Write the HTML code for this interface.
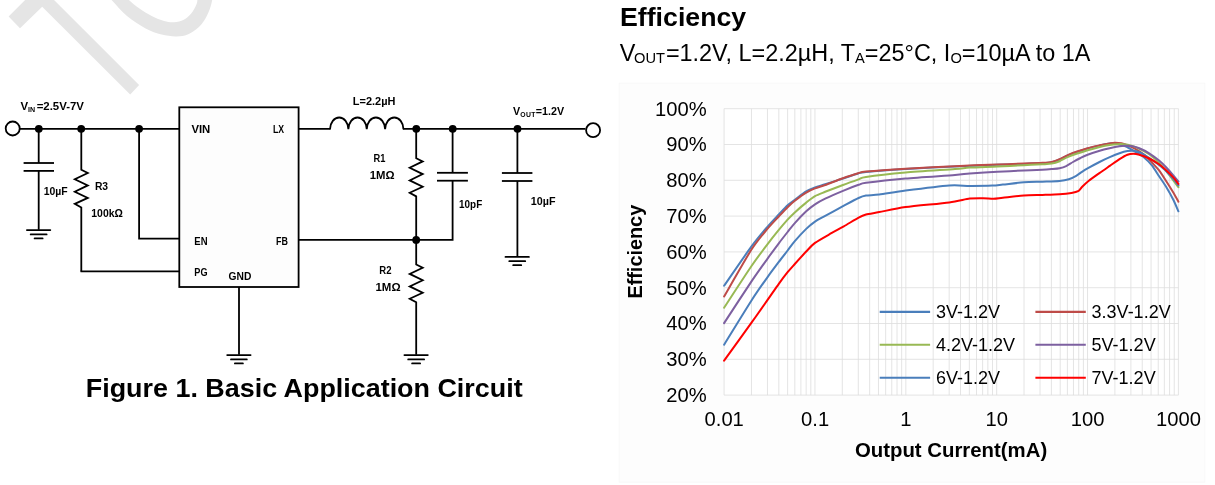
<!DOCTYPE html>
<html><head><meta charset="utf-8"><title>Efficiency</title>
<style>html,body{margin:0;padding:0;background:#fff;}body{width:1215px;height:485px;overflow:hidden;font-family:"Liberation Sans",sans-serif;}svg{display:block;will-change:transform;}</style></head>
<body>
<svg width="1215" height="485" viewBox="0 0 1215 485" font-family="Liberation Sans, sans-serif" fill="#000">
<rect width="1215" height="485" fill="#fff"/>
<polygon points="25.1,0 8.65,16.5 20,28.2 42.2,6.8 130.2,94.4 139.1,85.1 54,0" fill="#e5e5e5"/>
<path d="M97.00,-16.00 C99.43,-13.33 106.60,-5.33 111.60,0.00 C116.60,5.33 121.33,11.27 127.00,16.00 C132.67,20.73 139.83,25.30 145.60,28.40 C151.37,31.50 156.47,33.27 161.60,34.60 C166.73,35.93 171.87,36.50 176.40,36.40 C180.93,36.30 184.68,35.95 188.80,34.00 C192.92,32.05 197.82,28.32 201.10,24.70 C204.38,21.08 206.65,16.42 208.50,12.30 C210.35,8.18 211.28,4.38 212.20,0.00 C213.12,-4.38 213.70,-11.67 214.00,-14.00 L197.60,-10.00 C197.57,-8.33 197.63,-2.48 197.40,0.00 C197.17,2.48 197.23,2.63 196.20,4.90 C195.17,7.17 193.27,11.12 191.20,13.60 C189.13,16.08 186.67,18.37 183.80,19.80 C180.93,21.23 177.28,22.00 174.00,22.20 C170.72,22.40 167.82,22.03 164.10,21.00 C160.38,19.97 155.82,18.07 151.70,16.00 C147.58,13.93 143.20,11.27 139.40,8.60 C135.60,5.93 132.30,2.93 128.90,0.00 C125.50,-2.93 120.65,-7.50 119.00,-9.00 Z" fill="#e5e5e5"/>
<g stroke="#000" stroke-width="1.80" fill="none" stroke-linecap="butt" stroke-linejoin="miter">
<line x1="19.9" y1="128.8" x2="179.3" y2="128.8"/>
<rect x="179.3" y="107.3" width="119.3" height="179.7" fill="#fdfdfd"/>
<line x1="38.7" y1="128.8" x2="38.7" y2="163.0"/>
<line x1="23.6" y1="163.0" x2="54.0" y2="163.0"/>
<line x1="23.6" y1="170.9" x2="54.0" y2="170.9"/>
<line x1="38.7" y1="170.8" x2="38.7" y2="229.8"/>
<g stroke-linecap="round">
<line x1="26.9" y1="230.1" x2="50.3" y2="230.1"/>
<line x1="30.7" y1="234.4" x2="46.6" y2="234.4"/>
<line x1="34.6" y1="238.4" x2="42.6" y2="238.4"/>
</g>
<polyline points="81.3,128.8 81.3,169.8 87.8,173.0 74.8,179.2 87.8,185.4 74.8,191.7 87.8,197.9 74.8,203.9 81.3,207.5 81.3,271.4"/>
<line x1="80.5" y1="271.4" x2="179.3" y2="271.4"/>
<polyline points="139.1,128.8 139.1,238.7 179.3,238.7"/>
<line x1="239" y1="287" x2="239" y2="354.8"/>
<g stroke-linecap="round">
<line x1="227.2" y1="355.1" x2="250.6" y2="355.1"/>
<line x1="231.0" y1="359.4" x2="246.8" y2="359.4"/>
<line x1="234.9" y1="363.4" x2="242.9" y2="363.4"/>
</g>
<line x1="298.6" y1="128.8" x2="330.6" y2="128.8"/>
<path d="M330.00,129.20 A9.19,12.10 0 0 1 348.37,129.20 A9.19,12.10 0 0 1 366.74,129.20 A9.19,12.10 0 0 1 385.11,129.20 A9.19,12.10 0 0 1 403.48,129.20"/>
<line x1="402.9" y1="128.8" x2="585.5" y2="128.8"/>
<polyline points="416.2,128.8 416.2,158.2 422.7,161.4 409.7,167.8 422.7,174.1 409.7,180.4 422.7,186.7 409.7,192.8 416.2,196.4 416.2,239.9"/>
<polyline points="416.2,239.9 416.2,264.5 422.7,267.7 409.7,273.9 422.7,280.2 409.7,286.4 422.7,292.7 409.7,298.7 416.2,302.3 416.2,354.8"/>
<g stroke-linecap="round">
<line x1="404.4" y1="355.1" x2="427.8" y2="355.1"/>
<line x1="408.2" y1="359.4" x2="424.1" y2="359.4"/>
<line x1="412.1" y1="363.4" x2="420.1" y2="363.4"/>
</g>
<polyline points="298.6,239.9 452.6,239.9 452.6,180.7"/>
<line x1="452.6" y1="128.8" x2="452.6" y2="172.8"/>
<line x1="437" y1="172.8" x2="467.9" y2="172.8"/>
<line x1="437" y1="180.7" x2="467.9" y2="180.7"/>
<line x1="517.4" y1="128.8" x2="517.4" y2="173.0"/>
<line x1="501.9" y1="173.0" x2="532.4" y2="173.0"/>
<line x1="501.9" y1="181.0" x2="532.4" y2="181.0"/>
<line x1="517.4" y1="181.0" x2="517.4" y2="256.6"/>
<g stroke-linecap="round">
<line x1="505.5" y1="256.9" x2="528.9" y2="256.9"/>
<line x1="509.3" y1="261.2" x2="525.2" y2="261.2"/>
<line x1="513.2" y1="265.2" x2="521.2" y2="265.2"/>
</g>
<circle cx="12.7" cy="128.5" r="7.0" fill="#fff"/>
<circle cx="593.1" cy="130.2" r="7.0" fill="#fff"/>
</g>
<circle cx="38.8" cy="128.8" r="3.9"/>
<circle cx="81.2" cy="128.8" r="3.9"/>
<circle cx="139.1" cy="128.8" r="3.9"/>
<circle cx="416.3" cy="128.8" r="3.9"/>
<circle cx="452.7" cy="128.8" r="3.9"/>
<circle cx="517.5" cy="128.8" r="3.9"/>
<circle cx="416.2" cy="239.9" r="3.9"/>
<text x="20.4" y="110" font-size="11.60" font-weight="bold" textLength="63.6" lengthAdjust="spacingAndGlyphs">V<tspan font-size="7.2" dy="1.9">IN</tspan><tspan dy="-1.9" dx="1.6">=2.5V-7V</tspan></text>
<text x="43.7" y="194.9" font-size="11.60" font-weight="bold" textLength="24.0" lengthAdjust="spacingAndGlyphs" >10µF</text>
<text x="94.9" y="189.6" font-size="11.60" font-weight="bold" textLength="13.2" lengthAdjust="spacingAndGlyphs" >R3</text>
<text x="91.3" y="217.3" font-size="11.60" font-weight="bold" textLength="31.6" lengthAdjust="spacingAndGlyphs" >100kΩ</text>
<text x="191.4" y="132.6" font-size="11.60" font-weight="bold" textLength="18.9" lengthAdjust="spacingAndGlyphs" >VIN</text>
<text x="273.0" y="132.6" font-size="11.60" font-weight="bold" textLength="11.1" lengthAdjust="spacingAndGlyphs" >LX</text>
<text x="194.3" y="244.7" font-size="11.60" font-weight="bold" textLength="13.2" lengthAdjust="spacingAndGlyphs" >EN</text>
<text x="276.0" y="244.7" font-size="11.60" font-weight="bold" textLength="11.9" lengthAdjust="spacingAndGlyphs" >FB</text>
<text x="194.3" y="276.0" font-size="11.60" font-weight="bold" textLength="13.2" lengthAdjust="spacingAndGlyphs" >PG</text>
<text x="228.5" y="279.8" font-size="11.60" font-weight="bold" textLength="22.8" lengthAdjust="spacingAndGlyphs" >GND</text>
<text x="352.8" y="105.2" font-size="11.60" font-weight="bold" textLength="42.6" lengthAdjust="spacingAndGlyphs" >L=2.2µH</text>
<text x="373.5" y="161.9" font-size="11.60" font-weight="bold" textLength="11.9" lengthAdjust="spacingAndGlyphs" >R1</text>
<text x="369.7" y="179.1" font-size="11.60" font-weight="bold" textLength="24.8" lengthAdjust="spacingAndGlyphs" >1MΩ</text>
<text x="459.1" y="208.2" font-size="11.60" font-weight="bold" textLength="23.1" lengthAdjust="spacingAndGlyphs" >10pF</text>
<text x="530.8" y="204.6" font-size="11.60" font-weight="bold" textLength="24.7" lengthAdjust="spacingAndGlyphs" >10µF</text>
<text x="379.3" y="274.3" font-size="11.60" font-weight="bold" textLength="12.2" lengthAdjust="spacingAndGlyphs" >R2</text>
<text x="375.5" y="290.9" font-size="11.60" font-weight="bold" textLength="25.1" lengthAdjust="spacingAndGlyphs" >1MΩ</text>
<text x="513.1" y="115" font-size="11.60" font-weight="bold" textLength="51" lengthAdjust="spacingAndGlyphs">V<tspan font-size="7.4" dy="1.9" letter-spacing="0.4">OUT</tspan><tspan dy="-1.9">=1.2V</tspan></text>
<text x="85.8" y="396.6" font-size="26.70" font-weight="bold" textLength="436.8" lengthAdjust="spacingAndGlyphs" >Figure 1. Basic Application Circuit</text>
<text x="620.0" y="26.4" font-size="26.40" font-weight="bold" textLength="126.2" lengthAdjust="spacingAndGlyphs" >Efficiency</text>
<text x="619.8" y="60.7" font-size="23.30" textLength="470.7" lengthAdjust="spacingAndGlyphs">V<tspan font-size="14.6" dy="2" dx="-1.3">OUT</tspan><tspan dy="-2" dx="0.8">=1.2V, L=2.2µH, T</tspan><tspan font-size="14.6" dy="2">A</tspan><tspan dy="-2">=25°C, I</tspan><tspan font-size="14.6" dy="2">O</tspan><tspan dy="-2">=10µA to 1A</tspan></text>
<rect x="619.2" y="83.2" width="585.6" height="399" fill="#fdfdfd" stroke="#f8f8f8" stroke-width="1"/>
<rect x="724.1" y="108.7" width="454.3" height="286.4" fill="#fff"/>
<g stroke="#dddddd" stroke-width="0.8" fill="none">
<line x1="724.10" y1="108.7" x2="724.10" y2="395.1"/>
<line x1="751.45" y1="108.7" x2="751.45" y2="395.1"/>
<line x1="767.45" y1="108.7" x2="767.45" y2="395.1"/>
<line x1="778.80" y1="108.7" x2="778.80" y2="395.1"/>
<line x1="787.61" y1="108.7" x2="787.61" y2="395.1"/>
<line x1="794.80" y1="108.7" x2="794.80" y2="395.1"/>
<line x1="800.89" y1="108.7" x2="800.89" y2="395.1"/>
<line x1="806.15" y1="108.7" x2="806.15" y2="395.1"/>
<line x1="810.80" y1="108.7" x2="810.80" y2="395.1"/>
<line x1="814.96" y1="108.7" x2="814.96" y2="395.1"/>
<line x1="842.31" y1="108.7" x2="842.31" y2="395.1"/>
<line x1="858.31" y1="108.7" x2="858.31" y2="395.1"/>
<line x1="869.66" y1="108.7" x2="869.66" y2="395.1"/>
<line x1="878.47" y1="108.7" x2="878.47" y2="395.1"/>
<line x1="885.66" y1="108.7" x2="885.66" y2="395.1"/>
<line x1="891.75" y1="108.7" x2="891.75" y2="395.1"/>
<line x1="897.01" y1="108.7" x2="897.01" y2="395.1"/>
<line x1="901.66" y1="108.7" x2="901.66" y2="395.1"/>
<line x1="905.82" y1="108.7" x2="905.82" y2="395.1"/>
<line x1="933.17" y1="108.7" x2="933.17" y2="395.1"/>
<line x1="949.17" y1="108.7" x2="949.17" y2="395.1"/>
<line x1="960.52" y1="108.7" x2="960.52" y2="395.1"/>
<line x1="969.33" y1="108.7" x2="969.33" y2="395.1"/>
<line x1="976.52" y1="108.7" x2="976.52" y2="395.1"/>
<line x1="982.61" y1="108.7" x2="982.61" y2="395.1"/>
<line x1="987.87" y1="108.7" x2="987.87" y2="395.1"/>
<line x1="992.52" y1="108.7" x2="992.52" y2="395.1"/>
<line x1="996.68" y1="108.7" x2="996.68" y2="395.1"/>
<line x1="1024.03" y1="108.7" x2="1024.03" y2="395.1"/>
<line x1="1040.03" y1="108.7" x2="1040.03" y2="395.1"/>
<line x1="1051.38" y1="108.7" x2="1051.38" y2="395.1"/>
<line x1="1060.19" y1="108.7" x2="1060.19" y2="395.1"/>
<line x1="1067.38" y1="108.7" x2="1067.38" y2="395.1"/>
<line x1="1073.47" y1="108.7" x2="1073.47" y2="395.1"/>
<line x1="1078.73" y1="108.7" x2="1078.73" y2="395.1"/>
<line x1="1083.38" y1="108.7" x2="1083.38" y2="395.1"/>
<line x1="1087.54" y1="108.7" x2="1087.54" y2="395.1"/>
<line x1="1114.89" y1="108.7" x2="1114.89" y2="395.1"/>
<line x1="1130.89" y1="108.7" x2="1130.89" y2="395.1"/>
<line x1="1142.24" y1="108.7" x2="1142.24" y2="395.1"/>
<line x1="1151.05" y1="108.7" x2="1151.05" y2="395.1"/>
<line x1="1158.24" y1="108.7" x2="1158.24" y2="395.1"/>
<line x1="1164.33" y1="108.7" x2="1164.33" y2="395.1"/>
<line x1="1169.59" y1="108.7" x2="1169.59" y2="395.1"/>
<line x1="1174.24" y1="108.7" x2="1174.24" y2="395.1"/>
<line x1="1178.40" y1="108.7" x2="1178.40" y2="395.1"/>
<line x1="724.1" y1="108.70" x2="1178.4" y2="108.70"/>
<line x1="724.1" y1="144.50" x2="1178.4" y2="144.50"/>
<line x1="724.1" y1="180.30" x2="1178.4" y2="180.30"/>
<line x1="724.1" y1="216.10" x2="1178.4" y2="216.10"/>
<line x1="724.1" y1="251.90" x2="1178.4" y2="251.90"/>
<line x1="724.1" y1="287.70" x2="1178.4" y2="287.70"/>
<line x1="724.1" y1="323.50" x2="1178.4" y2="323.50"/>
<line x1="724.1" y1="359.30" x2="1178.4" y2="359.30"/>
<line x1="724.1" y1="395.10" x2="1178.4" y2="395.10"/>
</g>
<path d="M724.10,285.80 C727.75,280.55 745.73,254.27 751.50,246.40 C757.27,238.53 763.76,231.07 767.40,226.80 C771.04,222.53 776.11,217.28 778.80,214.40 C781.49,211.52 785.47,207.15 787.60,205.20 C789.73,203.25 792.32,201.64 794.80,199.80 C797.28,197.96 803.51,193.05 806.20,191.40 C808.89,189.75 812.47,188.35 815.00,187.40 C817.53,186.45 821.57,185.45 825.20,184.30 C828.83,183.15 837.81,180.24 842.20,178.80 C846.59,177.36 854.93,174.42 858.10,173.50 C861.27,172.58 859.67,172.50 866.00,171.90 C872.33,171.30 893.07,169.76 905.60,169.00 C918.13,168.24 947.76,166.76 960.00,166.20 C972.24,165.64 988.88,165.11 997.40,164.80 C1005.92,164.49 1017.90,164.13 1023.90,163.90 C1029.90,163.67 1038.69,163.33 1042.40,163.10 C1046.11,162.87 1049.41,162.68 1051.70,162.20 C1053.99,161.72 1057.32,160.47 1059.60,159.50 C1061.88,158.53 1065.07,156.37 1068.80,154.90 C1072.53,153.43 1083.48,149.75 1087.60,148.50 C1091.72,147.25 1096.77,146.15 1099.70,145.50 C1102.63,144.85 1107.61,143.91 1109.60,143.60 C1111.59,143.29 1112.49,142.84 1114.60,143.20 C1116.71,143.56 1122.76,145.22 1125.40,146.30 C1128.04,147.38 1131.95,149.85 1134.40,151.30 C1136.85,152.75 1141.47,155.32 1143.80,157.20 C1146.13,159.08 1149.89,162.89 1151.90,165.40 C1153.91,167.91 1157.01,173.15 1158.90,176.00 C1160.79,178.85 1164.18,183.63 1166.10,186.80 C1168.02,189.97 1171.66,196.53 1173.30,199.80 C1174.94,203.07 1177.72,209.77 1178.40,211.30" fill="none" stroke="#4a7ebb" stroke-width="2.0" stroke-linejoin="round" stroke-linecap="round"/>
<path d="M724.10,296.50 C727.75,290.23 745.73,258.51 751.50,249.50 C757.27,240.49 763.76,233.30 767.40,228.90 C771.04,224.50 776.11,219.39 778.80,216.50 C781.49,213.61 785.47,209.29 787.60,207.20 C789.73,205.11 792.32,202.75 794.80,200.80 C797.28,198.85 803.51,194.25 806.20,192.60 C808.89,190.95 812.47,189.41 815.00,188.40 C817.53,187.39 821.57,186.32 825.20,185.00 C828.83,183.68 837.81,180.07 842.20,178.50 C846.59,176.93 854.93,174.12 858.10,173.20 C861.27,172.28 859.67,172.20 866.00,171.60 C872.33,171.00 893.07,169.46 905.60,168.70 C918.13,167.94 947.76,166.46 960.00,165.90 C972.24,165.34 988.88,164.81 997.40,164.50 C1005.92,164.19 1017.90,163.83 1023.90,163.60 C1029.90,163.37 1038.69,163.03 1042.40,162.80 C1046.11,162.57 1049.41,162.38 1051.70,161.90 C1053.99,161.42 1057.32,160.17 1059.60,159.20 C1061.88,158.23 1065.07,156.05 1068.80,154.60 C1072.53,153.15 1083.48,149.54 1087.60,148.30 C1091.72,147.06 1096.77,145.95 1099.70,145.30 C1102.63,144.65 1107.61,143.75 1109.60,143.40 C1111.59,143.05 1113.01,142.73 1114.60,142.70 C1116.19,142.67 1119.93,142.91 1121.50,143.20 C1123.07,143.49 1124.68,144.22 1126.40,144.90 C1128.12,145.58 1132.01,146.98 1134.40,148.30 C1136.79,149.62 1141.83,152.77 1144.30,154.80 C1146.77,156.83 1150.95,161.45 1152.90,163.50 C1154.85,165.55 1157.14,167.87 1158.90,170.20 C1160.66,172.53 1164.18,178.01 1166.10,181.00 C1168.02,183.99 1171.66,189.84 1173.30,192.60 C1174.94,195.36 1177.72,200.49 1178.40,201.70" fill="none" stroke="#be4b48" stroke-width="2.0" stroke-linejoin="round" stroke-linecap="round"/>
<path d="M724.10,307.70 C727.75,302.14 745.73,274.45 751.50,266.00 C757.27,257.55 763.76,249.11 767.40,244.30 C771.04,239.49 776.11,233.19 778.80,229.90 C781.49,226.61 785.47,221.93 787.60,219.60 C789.73,217.27 792.32,214.67 794.80,212.40 C797.28,210.13 803.51,204.77 806.20,202.60 C808.89,200.43 812.47,197.54 815.00,196.10 C817.53,194.66 821.47,193.28 825.20,191.80 C828.93,190.32 838.55,186.65 843.00,185.00 C847.45,183.35 855.53,180.48 858.60,179.40 C861.67,178.32 859.73,177.82 866.00,176.90 C872.27,175.98 893.73,173.55 905.60,172.50 C917.47,171.45 946.44,169.65 955.00,169.00 C963.56,168.35 964.15,167.93 969.80,167.60 C975.45,167.27 990.19,166.82 997.40,166.50 C1004.61,166.18 1017.90,165.49 1023.90,165.20 C1029.90,164.91 1038.69,164.51 1042.40,164.30 C1046.11,164.09 1049.41,164.01 1051.70,163.60 C1053.99,163.19 1057.32,162.13 1059.60,161.20 C1061.88,160.27 1065.07,158.05 1068.80,156.60 C1072.53,155.15 1083.48,151.58 1087.60,150.30 C1091.72,149.02 1096.77,147.71 1099.70,147.00 C1102.63,146.29 1107.23,145.37 1109.60,145.00 C1111.97,144.63 1115.65,144.31 1117.50,144.20 C1119.35,144.09 1121.65,144.01 1123.50,144.20 C1125.35,144.39 1129.29,144.99 1131.40,145.60 C1133.51,146.21 1136.93,147.64 1139.30,148.80 C1141.67,149.96 1146.56,152.42 1149.20,154.30 C1151.84,156.18 1156.85,160.69 1159.10,162.90 C1161.35,165.11 1164.21,168.58 1166.10,170.90 C1167.99,173.22 1171.66,178.13 1173.30,180.30 C1174.94,182.47 1177.72,186.28 1178.40,187.20" fill="none" stroke="#98b954" stroke-width="2.0" stroke-linejoin="round" stroke-linecap="round"/>
<path d="M724.10,323.10 C727.75,317.54 745.73,289.97 751.50,281.40 C757.27,272.83 763.76,263.88 767.40,258.80 C771.04,253.72 776.11,246.87 778.80,243.30 C781.49,239.73 785.47,234.69 787.60,232.00 C789.73,229.31 792.32,225.86 794.80,223.10 C797.28,220.34 803.51,213.81 806.20,211.30 C808.89,208.79 812.47,205.99 815.00,204.30 C817.53,202.61 821.47,200.40 825.20,198.60 C828.93,196.80 838.55,192.64 843.00,190.80 C847.45,188.96 855.53,185.87 858.60,184.80 C861.67,183.73 859.73,183.64 866.00,182.80 C872.27,181.96 893.73,179.54 905.60,178.50 C917.47,177.46 946.44,175.67 955.00,175.00 C963.56,174.33 964.15,173.93 969.80,173.50 C975.45,173.07 990.19,172.20 997.40,171.80 C1004.61,171.40 1017.90,170.77 1023.90,170.50 C1029.90,170.23 1038.69,169.99 1042.40,169.80 C1046.11,169.61 1049.41,169.31 1051.70,169.10 C1053.99,168.89 1057.67,168.60 1059.60,168.20 C1061.53,167.80 1064.41,166.93 1066.20,166.10 C1067.99,165.27 1071.09,163.08 1073.00,162.00 C1074.91,160.92 1078.55,158.96 1080.50,158.00 C1082.45,157.04 1085.04,155.76 1087.60,154.80 C1090.16,153.84 1096.77,151.67 1099.70,150.80 C1102.63,149.93 1106.96,148.90 1109.60,148.30 C1112.24,147.70 1117.51,146.63 1119.50,146.30 C1121.49,145.97 1122.91,145.84 1124.50,145.80 C1126.09,145.76 1129.43,145.67 1131.40,146.00 C1133.37,146.33 1136.93,147.33 1139.30,148.30 C1141.67,149.27 1146.56,151.66 1149.20,153.30 C1151.84,154.94 1156.85,158.73 1159.10,160.60 C1161.35,162.47 1164.21,165.34 1166.10,167.30 C1167.99,169.26 1171.66,173.41 1173.30,175.30 C1174.94,177.19 1177.72,180.67 1178.40,181.50" fill="none" stroke="#7d60a0" stroke-width="2.0" stroke-linejoin="round" stroke-linecap="round"/>
<path d="M724.10,344.70 C727.75,338.81 745.73,309.49 751.50,300.50 C757.27,291.51 763.76,282.45 767.40,277.30 C771.04,272.15 776.11,265.47 778.80,261.90 C781.49,258.33 785.47,253.26 787.60,250.50 C789.73,247.74 792.32,244.08 794.80,241.20 C797.28,238.32 803.51,231.51 806.20,228.90 C808.89,226.29 812.47,223.33 815.00,221.60 C817.53,219.87 821.47,217.95 825.20,215.90 C828.93,213.85 838.55,208.59 843.00,206.20 C847.45,203.81 855.53,199.41 858.60,198.00 C861.67,196.59 863.25,196.05 866.00,195.60 C868.75,195.15 873.92,195.27 879.20,194.60 C884.48,193.93 896.27,191.81 905.60,190.60 C914.93,189.39 940.64,186.13 949.20,185.50 C957.76,184.87 964.07,185.89 969.80,185.90 C975.53,185.91 987.80,185.77 992.20,185.60 C996.60,185.43 998.57,185.04 1002.80,184.60 C1007.03,184.16 1018.62,182.69 1023.90,182.30 C1029.18,181.91 1037.64,181.87 1042.40,181.70 C1047.16,181.53 1056.08,181.32 1059.60,181.00 C1063.12,180.68 1066.59,179.99 1068.80,179.30 C1071.01,178.61 1074.44,176.80 1076.20,175.80 C1077.96,174.80 1080.43,172.81 1082.00,171.80 C1083.57,170.79 1085.67,169.51 1088.00,168.20 C1090.33,166.89 1096.59,163.47 1099.50,162.00 C1102.41,160.53 1107.13,158.36 1109.80,157.20 C1112.47,156.04 1117.15,154.11 1119.50,153.30 C1121.85,152.49 1125.55,151.43 1127.40,151.10 C1129.25,150.77 1131.81,150.64 1133.40,150.80 C1134.99,150.96 1137.85,151.77 1139.30,152.30 C1140.75,152.83 1142.66,153.84 1144.30,154.80 C1145.94,155.76 1149.64,158.14 1151.60,159.50 C1153.56,160.86 1157.07,163.47 1159.00,165.00 C1160.93,166.53 1164.19,169.15 1166.10,171.00 C1168.01,172.85 1171.66,176.98 1173.30,178.90 C1174.94,180.82 1177.72,184.53 1178.40,185.40" fill="none" stroke="#4a7ebb" stroke-width="2.0" stroke-linejoin="round" stroke-linecap="round"/>
<path d="M724.10,360.60 C727.75,355.55 745.73,330.75 751.50,322.70 C757.27,314.65 763.76,305.39 767.40,300.20 C771.04,295.01 776.11,287.53 778.80,283.80 C781.49,280.07 785.47,274.84 787.60,272.20 C789.73,269.56 792.32,266.76 794.80,264.00 C797.28,261.24 803.51,254.31 806.20,251.50 C808.89,248.69 811.64,245.34 815.00,242.90 C818.36,240.46 827.56,235.40 831.40,233.20 C835.24,231.00 840.17,228.48 843.80,226.40 C847.43,224.32 855.64,219.19 858.60,217.60 C861.56,216.01 863.25,215.23 866.00,214.50 C868.75,213.77 873.92,213.09 879.20,212.10 C884.48,211.11 896.27,208.39 905.60,207.10 C914.93,205.81 940.64,203.53 949.20,202.40 C957.76,201.27 965.29,199.16 969.80,198.60 C974.31,198.04 979.83,198.17 983.00,198.20 C986.17,198.23 990.96,198.85 993.60,198.80 C996.24,198.75 998.76,198.24 1002.80,197.80 C1006.84,197.36 1018.62,195.89 1023.90,195.50 C1029.18,195.11 1037.64,195.07 1042.40,194.90 C1047.16,194.73 1055.72,194.47 1059.60,194.20 C1063.48,193.93 1069.03,193.30 1071.50,192.90 C1073.97,192.50 1076.70,191.99 1078.10,191.20 C1079.50,190.41 1080.61,188.36 1082.00,187.00 C1083.39,185.64 1086.18,182.85 1088.50,181.00 C1090.82,179.15 1096.56,175.11 1099.40,173.10 C1102.24,171.09 1107.12,167.75 1109.80,165.90 C1112.48,164.05 1117.15,160.68 1119.50,159.20 C1121.85,157.72 1125.55,155.52 1127.40,154.80 C1129.25,154.08 1131.81,153.80 1133.40,153.80 C1134.99,153.80 1137.19,154.17 1139.30,154.80 C1141.41,155.43 1146.57,157.23 1149.20,158.50 C1151.83,159.77 1156.75,162.74 1159.00,164.30 C1161.25,165.86 1164.19,168.45 1166.10,170.20 C1168.01,171.95 1171.66,175.57 1173.30,177.40 C1174.94,179.23 1177.72,183.03 1178.40,183.90" fill="none" stroke="#ff0000" stroke-width="2.0" stroke-linejoin="round" stroke-linecap="round"/>
<text x="706.7" y="115.5" font-size="20.20" text-anchor="end" >100%</text>
<text x="706.7" y="151.2" font-size="20.20" text-anchor="end" >90%</text>
<text x="706.7" y="187.1" font-size="20.20" text-anchor="end" >80%</text>
<text x="706.7" y="222.9" font-size="20.20" text-anchor="end" >70%</text>
<text x="706.7" y="258.7" font-size="20.20" text-anchor="end" >60%</text>
<text x="706.7" y="294.5" font-size="20.20" text-anchor="end" >50%</text>
<text x="706.7" y="330.2" font-size="20.20" text-anchor="end" >40%</text>
<text x="706.7" y="366.1" font-size="20.20" text-anchor="end" >30%</text>
<text x="706.7" y="401.9" font-size="20.20" text-anchor="end" >20%</text>
<text x="724.2" y="426.1" font-size="20.20" text-anchor="middle" >0.01</text>
<text x="815.1" y="426.1" font-size="20.20" text-anchor="middle" >0.1</text>
<text x="905.9" y="426.1" font-size="20.20" text-anchor="middle" >1</text>
<text x="996.8" y="426.1" font-size="20.20" text-anchor="middle" >10</text>
<text x="1087.6" y="426.1" font-size="20.20" text-anchor="middle" >100</text>
<text x="1178.5" y="426.1" font-size="20.20" text-anchor="middle" >1000</text>
<text x="854.9" y="456.7" font-size="20.20" font-weight="bold" textLength="192.3" lengthAdjust="spacingAndGlyphs" >Output Current(mA)</text>
<text transform="translate(641.7,298.6) rotate(-90)" font-size="19.8" font-weight="bold" textLength="93.8" lengthAdjust="spacingAndGlyphs">Efficiency</text>
<line x1="879.7" y1="311.9" x2="930.1" y2="311.9" stroke="#4a7ebb" stroke-width="2.1"/>
<text x="935.9" y="317.8" font-size="18.00" >3V-1.2V</text>
<line x1="1035.4" y1="311.9" x2="1085.8" y2="311.9" stroke="#be4b48" stroke-width="2.1"/>
<text x="1091.6" y="317.8" font-size="18.00" >3.3V-1.2V</text>
<line x1="879.7" y1="344.8" x2="930.1" y2="344.8" stroke="#98b954" stroke-width="2.1"/>
<text x="935.9" y="350.7" font-size="18.00" >4.2V-1.2V</text>
<line x1="1035.4" y1="344.8" x2="1085.8" y2="344.8" stroke="#7d60a0" stroke-width="2.1"/>
<text x="1091.6" y="350.7" font-size="18.00" >5V-1.2V</text>
<line x1="879.7" y1="377.7" x2="930.1" y2="377.7" stroke="#4a7ebb" stroke-width="2.1"/>
<text x="935.9" y="383.6" font-size="18.00" >6V-1.2V</text>
<line x1="1035.4" y1="377.7" x2="1085.8" y2="377.7" stroke="#ff0000" stroke-width="2.1"/>
<text x="1091.6" y="383.6" font-size="18.00" >7V-1.2V</text>
</svg>
</body></html>
